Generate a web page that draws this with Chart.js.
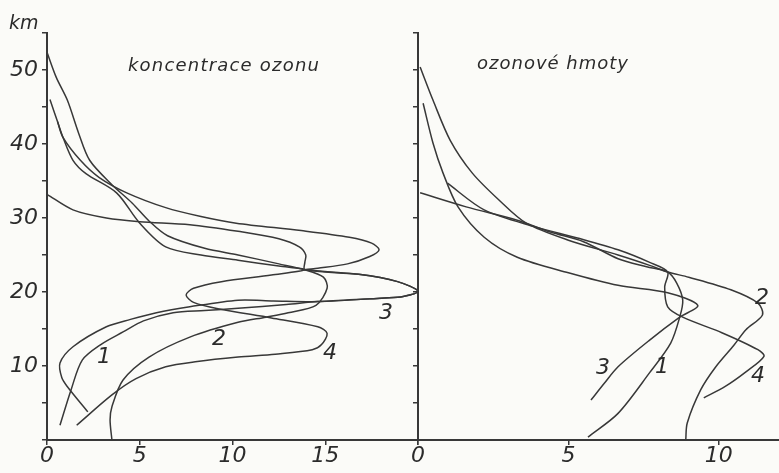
<!DOCTYPE html>
<html>
<head>
<meta charset="utf-8">
<script src="https://cdn.jsdelivr.net/npm/chart.js@4.4.1/dist/chart.umd.min.js"></script>
<style>
  body { margin: 0; background: #fbfbf8; }
  #wrap { position: relative; width: 779px; height: 473px; overflow: hidden; }
  canvas { position: absolute; top: 0; }
  .t { position: absolute; font-family: "DejaVu Sans", sans-serif; font-style: italic; color: #2b2b2b; white-space: nowrap; line-height: 1; }
  .num { font-size: 22px; transform: translate(-50%, -50%); }
</style>
</head>
<body>
<div id="wrap">
  <canvas id="rightChart" width="379" height="473" style="left:400px"></canvas>
  <canvas id="leftChart" width="420" height="473" style="left:0px"></canvas>
  <div class="t" style="left:9px; top:13px; font-size:19px;">km</div>
  <div class="t" style="left:128px; top:56px; font-size:18px; letter-spacing:1.2px;">koncentrace ozonu</div>
  <div class="t" style="left:477px; top:54px; font-size:18px; letter-spacing:1px;">ozonové hmoty</div>
  <div class="t num" style="left:104px; top:356px;">1</div>
  <div class="t num" style="left:219px; top:338px;">2</div>
  <div class="t num" style="left:386px; top:312px;">3</div>
  <div class="t num" style="left:330px; top:352px;">4</div>
  <div class="t num" style="left:603px; top:367px;">3</div>
  <div class="t num" style="left:662px; top:366px;">1</div>
  <div class="t num" style="left:762px; top:297px;">2</div>
  <div class="t num" style="left:758px; top:375px;">4</div>
</div>
<script>
// koncentrace ozonu: [hodnota, km]
const konc1 = [[0, 33.2], [1.4, 31.1], [3.2, 30.0], [5.0, 29.5], [7.7, 29.1], [10.3, 28.2], [12.5, 27.2],
  [13.6, 26.1], [13.95, 25], [13.9, 24.0], [13.9, 23.0], [16.8, 22.4], [18.9, 21.4], [20.0, 20.1],
  [19.2, 19.4], [18.2, 19.2], [14.6, 18.7], [12.9, 18.3], [10.3, 17.8], [8.5, 17.5], [6.8, 17.2],
  [5.2, 16.1], [4.1, 14.6], [2.9, 12.9], [1.9, 10.8], [1.3, 6.8], [0.7, 2.0]];
const konc2 = [[0, 52.4], [0.5, 49], [1.1, 45.9], [1.7, 41.5], [2.3, 37.8], [3.5, 34.5], [4.6, 32.0],
  [5.5, 29.6], [6.5, 27.6], [8.5, 25.9], [10.3, 25.0], [12.5, 23.8], [13.9, 23.0], [14.9, 22.0],
  [15.1, 20.5], [14.5, 18.2], [13.0, 17.2], [11.8, 16.6], [10.3, 15.9], [7.7, 13.9], [5.5, 11.2],
  [4.1, 8.1], [3.5, 4.5], [3.4, 2.7], [3.5, 0]];
const konc3 = [[0.57, 43], [0.86, 40.9], [1.8, 37.8], [2.8, 35.5], [4.3, 33.4], [6.4, 31.4], [8.3, 30.2],
  [10.2, 29.3], [13.7, 28.3], [16.3, 27.4], [17.5, 26.6], [17.9, 25.7], [17.4, 24.8], [16.2, 23.8],
  [14.6, 23.2], [13.9, 23.0], [16.8, 22.4], [18.9, 21.4], [20.0, 20.1], [19.2, 19.4], [18.2, 19.2],
  [14.6, 18.7], [12.2, 18.8], [10.3, 18.9], [7.7, 18.0], [5.9, 17.2], [4.5, 16.3], [3.2, 15.3],
  [1.4, 12.6], [0.7, 10.4], [0.8, 8.4], [1.1, 7.2], [2.2, 3.8]];
const konc4 = [[0.16, 46], [0.57, 43], [0.86, 40.9], [1.4, 37.8], [2.1, 36.0], [3.75, 33.4], [5.0, 29.3],
  [6.4, 26.1], [8.3, 25.0], [10.3, 24.3], [12.5, 23.5], [13.9, 23.0], [12.1, 22.3], [9.4, 21.4],
  [7.9, 20.5], [7.5, 19.6], [7.9, 18.6], [9.3, 17.7], [12.1, 16.5], [14.6, 15.3], [15.1, 14.4],
  [14.8, 12.9], [14.3, 12.2], [12.3, 11.6], [10.3, 11.2], [8.1, 10.6], [6.4, 9.9], [4.8, 8.3],
  [3.5, 6.1], [1.6, 2.0]];

// ozonové hmoty: [hodnota, km]
const hmoty1 = [[0.07, 33.4], [1.6, 31.5], [3.3, 29.7], [4.4, 28.1], [5.5, 26.8], [6.65, 24.5], [7.6, 23.4],
  [8.3, 22.7], [8.6, 21.2], [8.8, 18.9], [8.7, 16.6], [8.4, 13.1], [7.7, 9.1], [6.65, 3.6], [5.65, 0.4]];
const hmoty2 = [[0.07, 50.4], [0.5, 45.9], [1.07, 40.5], [1.8, 36.1], [2.7, 32.4], [3.6, 29.3], [5.0, 27.0],
  [6.65, 25.0], [7.7, 23.6], [8.3, 22.7], [9.0, 22.0], [10.4, 20.3], [11.3, 18.5], [11.45, 16.9],
  [10.9, 14.9], [10.5, 12.8], [9.9, 9.9], [9.4, 6.8], [8.95, 2.3], [8.9, 0]];
const hmoty3 = [[0.17, 45.5], [0.5, 40.1], [0.83, 36.1], [1.33, 31.5], [2.2, 27.4], [3.3, 24.7], [5.0, 22.6],
  [6.65, 20.9], [8.3, 19.9], [9.3, 18.2], [8.7, 16.6], [7.7, 13.5], [6.65, 9.9], [6.2, 7.7], [5.75, 5.4]];
const hmoty4 = [[0.98, 34.7], [2.2, 31.1], [3.9, 28.8], [5.3, 27.3], [6.65, 25.7], [7.7, 24.0], [8.3, 22.7],
  [8.2, 20.7], [8.3, 18.0], [8.8, 16.6], [10.1, 14.5], [11.3, 12.2], [11.5, 11.3], [10.9, 9.2],
  [10.2, 7.2], [9.5, 5.7]];

const kmTicks = [10, 20, 30, 40, 50];
const leftXLabels = [0, 5, 10, 15];
const rightXLabels = [0, 5, 10];

const ink = "#383838";
const tickFont = { family: "DejaVu Sans", size: 22, style: "italic" };

function toPoints(arr) {
  return arr.map(p => ({ x: p[0], y: p[1] }));
}

function makeDatasets(curves) {
  return curves.map(c => ({
    data: toPoints(c),
    showLine: true,
    borderColor: ink,
    borderWidth: 1.5,
    pointRadius: 0,
    tension: 0.3,
    fill: false,
    clip: 4,
  }));
}

function makeChart(id, curves, xMax, yWidth, xLabels, showY, padRight) {
  new Chart(document.getElementById(id), {
    type: "scatter",
    data: { datasets: makeDatasets(curves) },
    options: {
      responsive: false,
      animation: false,
      layout: { padding: { top: 33, right: padRight, left: 0, bottom: 0 } },
      plugins: { legend: { display: false }, tooltip: { enabled: false } },
      scales: {
        x: {
          type: "linear",
          min: 0,
          max: xMax,
          afterFit: s => { s.height = 33; },
          ticks: {
            stepSize: 5,
            includeBounds: false,
            maxRotation: 0,
            autoSkip: false,
            padding: -2,
            color: "#2b2b2b",
            font: tickFont,
            callback: v => (xLabels.includes(v) ? String(v) : ""),
          },
          grid: { drawOnChartArea: false, tickLength: 5, color: ink, lineWidth: 1.5 },
          border: { color: ink, width: 2 },
        },
        y: {
          type: "linear",
          min: 0,
          max: 55,
          afterFit: s => { s.width = yWidth; },
          ticks: {
            stepSize: 5,
            autoSkip: false,
            padding: 4,
            color: "#2b2b2b",
            font: tickFont,
            callback: v => (showY && kmTicks.includes(v) ? String(v) : ""),
          },
          grid: { drawOnChartArea: false, tickLength: 5, color: ink, lineWidth: 1.5 },
          border: { color: ink, width: 2 },
        },
      },
    },
  });
}

makeChart("leftChart", [konc1, konc2, konc3, konc4], 20, 47, leftXLabels, true, 2);
makeChart("rightChart", [hmoty1, hmoty2, hmoty3, hmoty4], 12, 18, rightXLabels, false, 0);
</script>
</body>
</html>
